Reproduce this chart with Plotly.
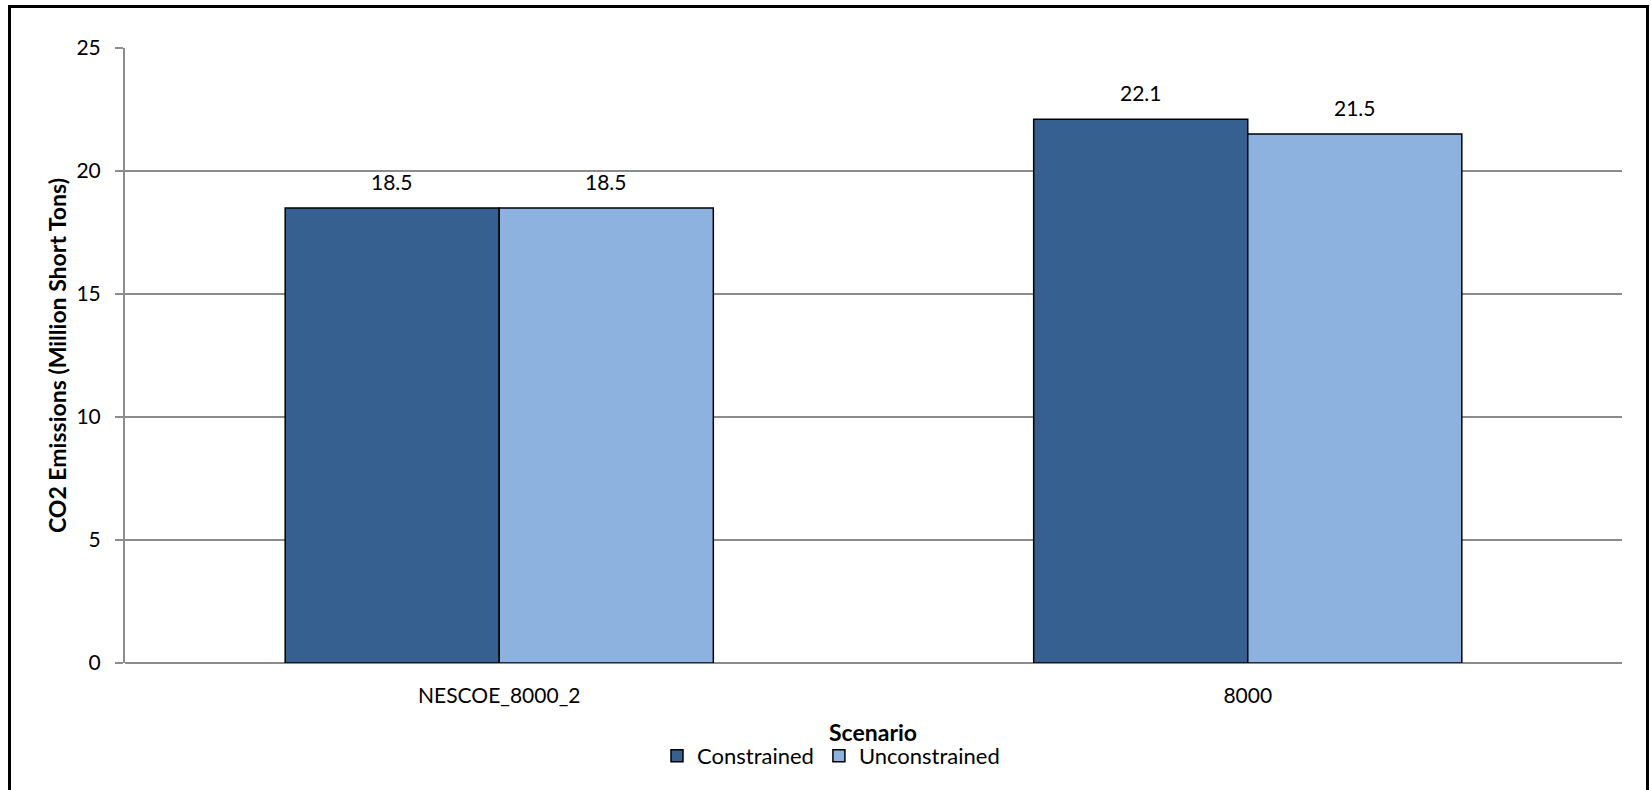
import plotly.graph_objects as go

# Chart data
scenarios = ["NESCOE_8000_2", "8000"]
constrained = [18.5, 22.1]
unconstrained = [18.5, 21.5]
series_names = ["Constrained", "Unconstrained"]
series_colors = ["#36608F", "#8EB2E0"]
y_ticks = [0, 5, 10, 15, 20, 25]

FONT = "Lato, 'Open Sans', sans-serif"
FS = 21
FS_TITLE = 23

W, H = 1651, 790
ML, MR, MT, MB = 125, 29, 48, 127
PW, PH = W - ML - MR, H - MT - MB

BAR_W = 0.286
xpos = list(range(len(scenarios)))

fig = go.Figure()
for name, vals, color, off in zip(series_names, [constrained, unconstrained],
                                   series_colors, [-BAR_W, 0.0]):
    fig.add_trace(go.Bar(
        name=name, x=xpos, y=vals, width=BAR_W, offset=off,
        marker=dict(color=color, line=dict(color="black", width=1.5)),
    ))
    for xi, v in zip(xpos, vals):
        fig.add_annotation(
            x=xi + off + BAR_W / 2, y=v, xref="x", yref="y",
            text=f"{v:.1f}", showarrow=False, yanchor="bottom", yshift=12,
            font=dict(family=FONT, size=FS, color="black"),
        )


def px_x(p):
    return (p - ML) / PW


def px_y(p):
    return (H - MB - p) / PH


# Axis titles
fig.add_annotation(
    x=px_x(873), y=px_y(732), xref="paper", yref="paper",
    text="<b>Scenario</b>", showarrow=False, xanchor="center", yanchor="middle",
    font=dict(family=FONT, size=FS_TITLE, color="black"),
)
fig.add_annotation(
    x=px_x(57), y=px_y(356), xref="paper", yref="paper",
    text="<b>CO2 Emissions (Million Short Tons)</b>", showarrow=False,
    textangle=-90, xanchor="center", yanchor="middle",
    font=dict(family=FONT, size=FS_TITLE, color="black"),
)

# Outer frame
fig.add_shape(
    type="rect", xref="paper", yref="paper",
    x0=px_x(9.5), x1=px_x(1647.5), y0=px_y(820), y1=px_y(6.5),
    line=dict(color="black", width=3), fillcolor="rgba(0,0,0,0)", layer="above",
)

fig.update_layout(
    width=W, height=H,
    margin=dict(l=ML, r=MR, t=MT, b=MB),
    paper_bgcolor="white", plot_bgcolor="white",
    barmode="overlay",
    font=dict(family=FONT, size=FS, color="black"),
    showlegend=True,
    legend=dict(
        orientation="h", x=px_x(831), xanchor="center",
        y=px_y(756), yanchor="middle",
        font=dict(family=FONT, size=22, color="black"),
        itemclick=False, tracegroupgap=0,
    ),
    xaxis=dict(
        range=[-0.5, 1.5], tickvals=xpos, ticktext=scenarios,
        showgrid=False, zeroline=False, showline=False, ticks="",
        tickfont=dict(family=FONT, size=FS, color="black"),
        ticklabelstandoff=18,
        fixedrange=True,
    ),
    yaxis=dict(
        range=[0, 25], tickvals=y_ticks, showgrid=True,
        gridcolor="#8C8C8C", gridwidth=2,
        zeroline=True, zerolinecolor="#8C8C8C", zerolinewidth=2,
        showline=True, linecolor="#8C8C8C", linewidth=2,
        ticks="outside", ticklen=8, tickcolor="#8C8C8C", tickwidth=2,
        tickfont=dict(family=FONT, size=FS, color="black"),
        ticklabelstandoff=10,
        fixedrange=True,
    ),
)

fig.write_html("out.html", config={"displayModeBar": False})
